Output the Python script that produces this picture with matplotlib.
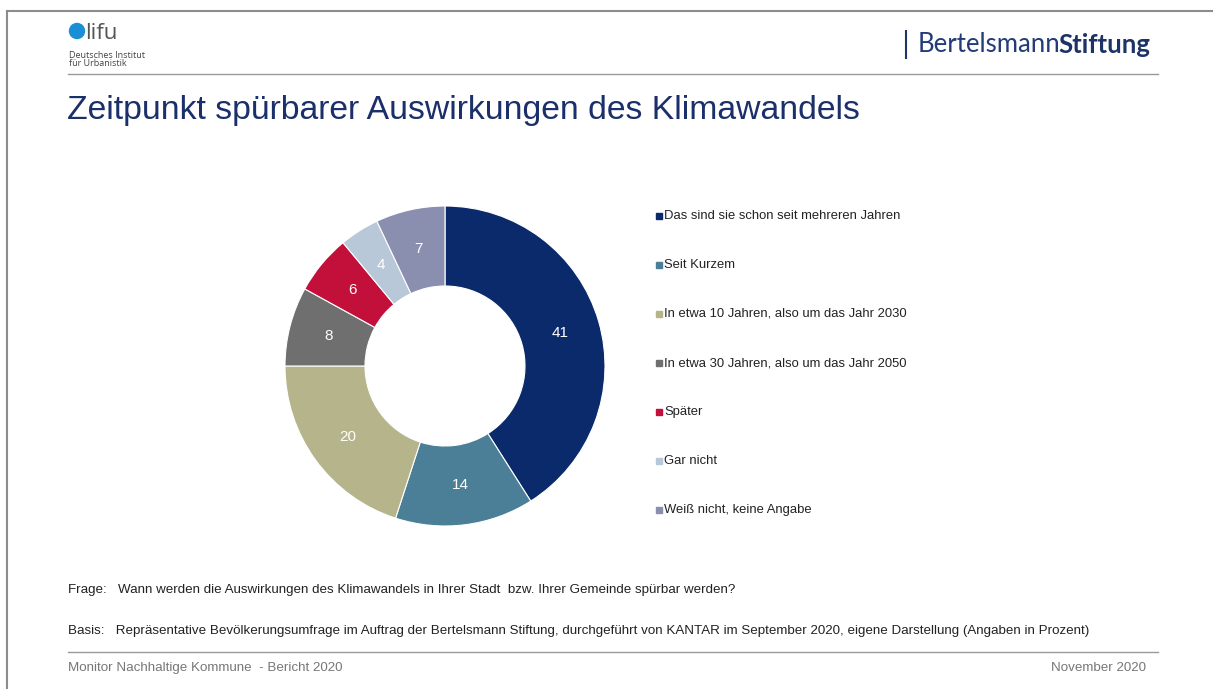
import matplotlib.pyplot as plt
from matplotlib.patches import Circle

plt.rcParams['font.family'] = ['Liberation Sans', 'DejaVu Sans']

categories = [
    "Das sind sie schon seit mehreren Jahren",
    "Seit Kurzem",
    "In etwa 10 Jahren, also um das Jahr 2030",
    "In etwa 30 Jahren, also um das Jahr 2050",
    "Später",
    "Gar nicht",
    "Weiß nicht, keine Angabe",
]
values = [41, 14, 20, 8, 6, 4, 7]
colors = ["#0b2a6c", "#4b7f97", "#b5b48b", "#6f6f6f", "#c2103b", "#b9c8d8", "#8a8fb0"]

title = "Zeitpunkt spürbarer Auswirkungen des Klimawandels"
frage = "Frage:   Wann werden die Auswirkungen des Klimawandels in Ihrer Stadt  bzw. Ihrer Gemeinde spürbar werden?"
basis = ("Basis:   Repräsentative Bevölkerungsumfrage im Auftrag der Bertelsmann Stiftung, durchgeführt von KANTAR "
         "im September 2020, eigene Darstellung (Angaben in Prozent)")
footer_left = "Monitor Nachhaltige Kommune  - Bericht 2020"
footer_right = "November 2020"

W, H = 1213, 689
fig = plt.figure(figsize=(W / 100, H / 100), dpi=100)

# page layer in pixel coordinates
bg = fig.add_axes([0, 0, 1, 1])
bg.set_xlim(0, W)
bg.set_ylim(H, 0)
bg.axis("off")

# frame of the slide
bg.plot([7, 7], [11, H], color="#8c8c8c", lw=1.5)
bg.plot([7, W], [11, 11], color="#8c8c8c", lw=1.5)

# difu logo
bg.add_patch(Circle((77, 31), 7.5, color="#1a8fd6"))
bg.text(85, 39, "lifu", fontsize=16, color="#555555", family=["Open Sans", "DejaVu Sans"],
        va="baseline")
bg.text(69, 56, "Deutsches Institut", fontsize=6.5, color="#444444", family=["Open Sans", "DejaVu Sans"],
        va="center")
bg.text(69, 64, "für Urbanistik", fontsize=6.5, color="#444444", family=["Open Sans", "DejaVu Sans"],
        va="center")

# Bertelsmann Stiftung
bg.plot([906, 906], [31, 58], color="#1f3566", lw=1.5)
t1 = bg.text(918, 45, "Bertelsmann", fontsize=18.5, color="#233c78", family=["Lato", "DejaVu Sans"],
             va="center")
fig.canvas.draw()
x_end = t1.get_window_extent().x1
bg.text(x_end - 2, 45, "Stiftung", fontsize=18.5, color="#1c3366", family=["Lato", "DejaVu Sans"],
        fontweight="bold", va="center")

bg.plot([68, 1158], [74, 74], color="#9a9a9a", lw=1)

# title
bg.text(67, 110, title, fontsize=24.3, color="#1b2f6b", va="center")

# legend
for i, (lab, col) in enumerate(zip(categories, colors)):
    y = 216 + i * 49
    bg.plot(659, y, marker="s", ms=4.5, color=col, mec=col)
    bg.text(664, y, lab, fontsize=9.4, color="#222222", va="center")

# question / basis / footer
bg.text(68, 590, frage, fontsize=9.6, color="#222222", va="center")
bg.text(68, 631, basis, fontsize=9.6, color="#222222", va="center")
bg.plot([68, 1158], [652, 652], color="#9a9a9a", lw=1)
bg.text(68, 668, footer_left, fontsize=9.6, color="#777777", va="center")
bg.text(1146, 668, footer_right, fontsize=9.6, color="#777777", va="center", ha="right")

# donut
cx, cy, r = 445, 366, 160
ax = fig.add_axes([(cx - r) / W, (H - cy - r) / H, 2 * r / W, 2 * r / H])
wedges, texts, autotexts = ax.pie(
    values, colors=colors, startangle=90, counterclock=False, radius=1,
    autopct=lambda p: f"{p:.0f}", pctdistance=0.75,
    wedgeprops=dict(width=0.5, edgecolor="white", linewidth=0.8),
    textprops=dict(color="white", fontsize=11),
)
ax.set_xlim(-1, 1)
ax.set_ylim(-1, 1)
ax.axis("off")

fig.savefig("out.png", dpi=100)
